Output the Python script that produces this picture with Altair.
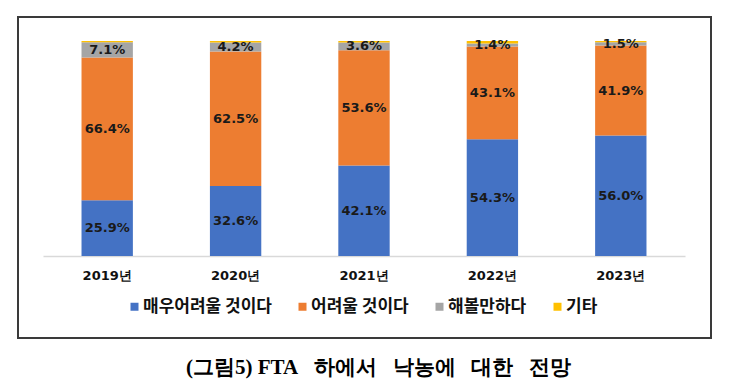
import altair as alt
import pandas as pd

years = ["2019년", "2020년", "2021년", "2022년", "2023년"]
categories = ["매우어려울 것이다", "어려울 것이다", "해볼만하다", "기타"]
very_hard = [25.9, 32.6, 42.1, 54.3, 56.0]
hard = [66.4, 62.5, 53.6, 43.1, 41.9]
doable = [7.1, 4.2, 3.6, 1.4, 1.5]
other = [0.6, 0.7, 0.7, 1.2, 0.6]
colors = ["#4472C4", "#ED7D31", "#A5A5A5", "#FFC000"]

series = [very_hard, hard, doable, other]
rows = []
for i, y in enumerate(years):
    cum = 0.0
    for k, cat in enumerate(categories):
        v = series[k][i]
        rows.append({
            "year": y, "cat": cat, "order": k, "value": v,
            "mid": cum + v / 2.0,
            "label": f"{v:.1f}%" if k < 3 else "",
        })
        cum += v
df = pd.DataFrame(rows)

W, H = 693, 321
xscale = alt.Scale(domain=years, range=[25, 667], paddingInner=0.6, paddingOuter=0.3)
yscale = alt.Scale(domain=[0, 100], range=[239, 24])

base = alt.Chart(df)

bars = base.mark_bar().encode(
    x=alt.X("year:N", scale=xscale, sort=years,
            axis=alt.Axis(title=None, labelAngle=0, ticks=False, offset=-82,
                          domainColor="#D9D9D9", domainWidth=1.5,
                          labelFont="DejaVu Sans", labelFontWeight="bold",
                          labelFontSize=13, labelColor="#111111", labelPadding=13)),
    y=alt.Y("value:Q", stack="zero", scale=yscale, axis=None),
    color=alt.Color("cat:N", sort=categories,
                    scale=alt.Scale(domain=categories, range=colors),
                    legend=alt.Legend(title=None, orient="none", direction="horizontal",
                                      legendX=108, legendY=281,
                                      symbolType="square", symbolSize=64,
                                      symbolStrokeWidth=0, labelFont="Noto Sans CJK KR",
                                      labelFontWeight="bold", labelFontSize=17,
                                      labelColor="#111111", columnPadding=22,
                                      labelOffset=0)),
    order=alt.Order("order:Q"),
)

labels = base.transform_filter("datum.order < 3").mark_text(
    font="DejaVu Sans", fontWeight="bold", fontSize=13, color="#1a1a1a", baseline="middle"
).encode(
    x=alt.X("year:N", scale=xscale, sort=years),
    y=alt.Y("mid:Q", scale=yscale),
    text="label:N",
)

chart = (bars + labels).properties(
    width=W, height=H,
    background="white",
    padding={"left": 10, "top": 9, "right": 5, "bottom": 5},
    title=alt.TitleParams("(그림5)\u00a0FTA\u00a0\u00a0\u00a0하에서\u00a0\u00a0\u00a0낙농에\u00a0\u00a0\u00a0대한\u00a0\u00a0\u00a0전망",
                          orient="bottom",
                          font="Liberation Serif", fontWeight="bold", fontSize=21,
                          color="#000000", offset=19, dx=14),
).configure_view(stroke="#3a3a3a", strokeWidth=2, strokeOpacity=1)

chart.save("out.html", embed_options={"renderer": "svg", "actions": False})
